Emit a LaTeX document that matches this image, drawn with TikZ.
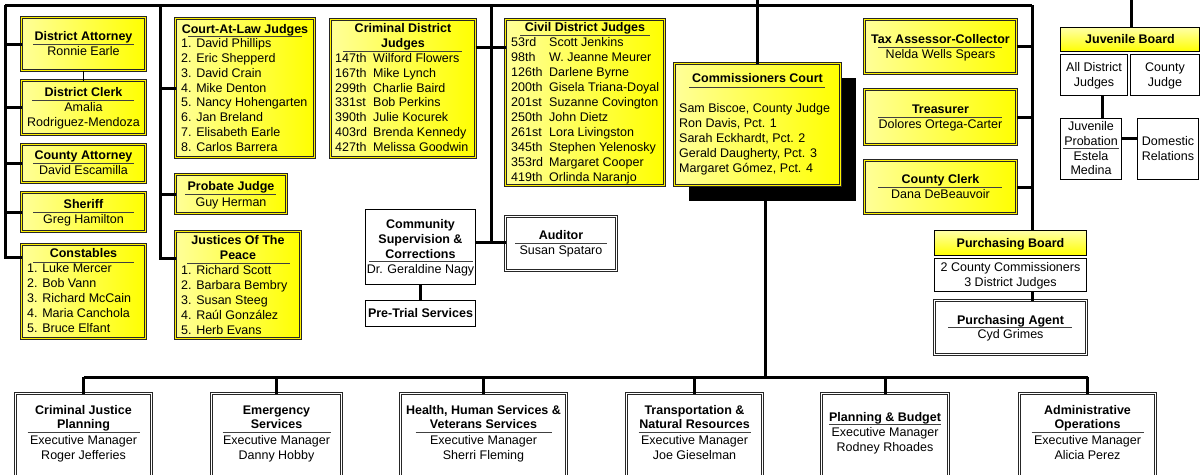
\documentclass[tikz,border=0pt]{standalone}
\usepackage{fontspec}
\setmainfont{Liberation Sans}
\begin{document}
\begin{tikzpicture}[x=1pt,y=-1pt,font=\fontsize{12.5pt}{15pt}\selectfont]
\tikzset{
  bx/.style={rectangle, inner sep=0pt, outer sep=0pt, anchor=north west},
  ybox/.style={bx, draw=black!85, double=yellow, double distance=1.6pt, line width=0.9pt, left color=yellow!40!white, right color=yellow},
  wbox/.style={bx, draw=black!85, double=white, double distance=1.6pt, line width=0.9pt, fill=white},
  sbox/.style={bx, draw=black, line width=1.5pt, fill=white},
  hbox/.style={bx, draw=black, line width=1.5pt, top color=yellow!35!white, bottom color=yellow},
  shad/.style={bx, fill=black},
  conn/.style={line width=3pt},
  thinline/.style={line width=0.9pt},
  ul/.style={line width=0.9pt, draw=black!75},
  tb/.style={font=\fontsize{12.5pt}{15pt}\selectfont\bfseries, inner sep=0pt, anchor=base},
  tr/.style={inner sep=0pt, anchor=base},
  tl/.style={inner sep=0pt, anchor=base west},
  bb/.style={font=\fontsize{12.5pt}{14pt}\selectfont\bfseries, inner sep=0pt, anchor=base},
  br/.style={font=\fontsize{12.5pt}{14pt}\selectfont, inner sep=0pt, anchor=base},
}
\newcommand\bx[6]{\node[#1, minimum width={#5-#3-3}, minimum height={#6-#4-3}] (#2) at ({#3+1.5},{#4+1.5}) {};}
\newcommand\tB[4]{\node[tb] (#1) at (#2,{#3+4.5}) {#4};}
\newcommand\tR[4]{\node[tr] (#1) at (#2,{#3+4.5}) {#4};}
\newcommand\uL[3]{\draw[ul] (#1,#3) -- (#2,#3);}
\newcommand\bt[7]{%
  \node[bb] (#1a) at (#2,{410+4.4}) {#3};
  \node[bb] (#1b) at (#2,{424+4.4}) {#4};
  \draw[ul] ({#2-#7},432) -- ({#2+#7},432);
  \node[br] (#1c) at (#2,{440+4.4}) {#5};
  \node[br] (#1d) at (#2,{455+4.4}) {#6};}
\useasboundingbox (0,0) rectangle (1204,474);
\clip (0,0) rectangle (1204,474);
\fill[white] (0,0) rectangle (1204,474);

% ---------- boxes ----------
\bx{ybox}{da}{20}{16}{147}{72}
\bx{ybox}{dc}{20}{79}{147}{136}
\bx{ybox}{ca}{20}{143}{147}{184}
\bx{ybox}{sh}{20}{191}{147}{233}
\bx{ybox}{co}{20}{243}{147}{340}
\bx{ybox}{cal}{174}{17}{316}{159}
\bx{ybox}{pj}{174}{173}{288}{215}
\bx{ybox}{jp}{174}{230}{302}{340}
\bx{ybox}{cdj}{329}{18}{477}{159}
\bx{ybox}{civ}{504}{18}{666}{187}
\bx{shad}{ccs}{687}{76}{857}{202}
\bx{ybox}{cc}{673}{62}{842}{187}
\bx{sbox}{csc}{364}{208}{477}{286}
\bx{sbox}{pts}{364}{299}{477}{328}
\bx{wbox}{aud}{504}{215}{618}{272}
\bx{ybox}{tax}{863}{18}{1018}{75}
\bx{ybox}{tre}{863}{88}{1018}{146}
\bx{ybox}{clk}{863}{159}{1018}{215}
\bx{hbox}{pbh}{933}{229}{1088}{257}
\bx{sbox}{pbl}{933}{257}{1088}{293}
\bx{wbox}{pa}{933}{299}{1088}{356}
\bx{hbox}{jbh}{1059}{26}{1201}{53}
\bx{sbox}{jbl}{1059}{53}{1129}{97}
\bx{sbox}{jbr}{1129}{53}{1201}{97}
\bx{sbox}{jpr}{1059}{117}{1123}{181}
\bx{sbox}{dr}{1136}{117}{1200}{181}
\bx{wbox}{b1}{14}{392}{153}{490}
\bx{wbox}{b2}{210}{392}{343}{490}
\bx{wbox}{b3}{399}{392}{568}{490}
\bx{wbox}{b4}{625}{392}{764}{490}
\bx{wbox}{b5}{820}{392}{950}{490}
\bx{wbox}{b6}{1018}{392}{1157}{490}

% ---------- connectors ----------
\coordinate (k1) at (5,5);
\coordinate (k1b) at (5,257);
\coordinate (k2) at (160,5);
\coordinate (k2b) at (160,258);
\coordinate (k3) at (491,5);
\coordinate (k3a) at (491,47);
\coordinate (k3b) at (491,242);
\coordinate (k4) at (1032,5);
\coordinate (top1) at (757.5,-3);
\coordinate (top2) at (1131,-3);
\coordinate (cco) at (765,377);
\coordinate (jv) at (1102,97);
\coordinate (jh) at (1123,138);

\draw[conn] (k1) -- (k4);
\draw[conn] (k1) -- (k1b) -- (co.west |- k1b);
\foreach \b in {da,dc,ca,sh} \draw[conn] (k1 |- \b.west) -- (\b.west);
\draw[conn] (k2) -- (k2b) -- (jp.west |- k2b);
\foreach \b in {cal,pj} \draw[conn] (k2 |- \b.west) -- (\b.west);
\draw[conn] (k3) -- (k3b);
\draw[conn] (cdj.east |- k3a) -- (civ.west |- k3a);
\draw[conn] (csc.east |- k3b) -- (aud.west |- k3b);
\draw[conn] (k4) -- (k4 |- pbh.north);
\foreach \b in {tax,tre,clk} \draw[conn] (\b.east) -- (\b.east -| k4);
\draw[conn] (pbl.south -| k4) -- (pa.north -| k4);
\draw[conn] (top1) -- (cc.north);
\draw[conn] (ccs.south -| cco) -- (cco);
\draw[conn] (b1.north |- cco) -- (b6.north |- cco);
\foreach \b in {b1,b2,b3,b4,b5,b6} \draw[conn] (\b.north |- cco) -- (\b.north);
\draw[conn] (top2) -- (top2 |- jbh.north);
\draw[conn] (jbl.south -| jv) -- (jpr.north -| jv);
\draw[conn] (jpr.east |- jh) -- (dr.west |- jh);
\draw[conn] (csc.south) -- (pts.north);
\draw[thinline] (da.south) -- (dc.north);

% ---------- texts ----------
\tB{daT}{83.5}{36}{District Attorney} \uL{33}{134}{44} \tR{daN}{83.5}{51}{Ronnie Earle}
\tB{dcT}{83.5}{92}{District Clerk} \uL{32}{134}{100} \tR{dcN1}{83.5}{107}{Amalia} \tR{dcN2}{83.5}{122}{Rodriguez-Mendoza}
\tB{caT}{83.5}{155}{County Attorney} \uL{33}{134}{163} \tR{caN}{83.5}{170}{David Escamilla}
\tB{shT}{83.5}{204}{Sheriff} \uL{33}{134}{212} \tR{shN}{83.5}{219}{Greg Hamilton}
\tB{coT}{83.5}{253}{Constables} \uL{33}{134}{262}
\foreach \t [count=\i] in {1. Luke Mercer,2. Bob Vann,3. Richard McCain,4. Maria Canchola,5. Bruce Elfant}
  \node[tl] (coL\i) at (27,{268+15*(\i-1)+4.5}) {\t};

\tB{calT}{245}{29}{Court-At-Law Judges} \uL{188}{302}{36}
\foreach \t [count=\i] in {1. David Phillips,2. Eric Shepperd,3. David Crain,4. Mike Denton,5. Nancy Hohengarten,6. Jan Breland,7. Elisabeth Earle,8. Carlos Barrera}
  \node[tl] (calL\i) at (181,{43+14.86*(\i-1)+4.5}) {\t};

\tB{pjT}{231}{186}{Probate Judge} \uL{185}{276}{194} \tR{pjN}{231}{202}{Guy Herman}

\tB{jpT1}{238}{240}{Justices Of The} \tB{jpT2}{238}{255}{Peace} \uL{187}{290}{263}
\foreach \t [count=\i] in {1. Richard Scott,2. Barbara Bembry,3. Susan Steeg,4. Raúl González,5. Herb Evans}
  \node[tl] (jpL\i) at (181,{270+15*(\i-1)+4.5}) {\t};

\tB{cdjT1}{403}{28}{Criminal District} \tB{cdjT2}{403}{43}{Judges} \uL{343}{462}{51}
\foreach \n/\m [count=\i] in {147th/Wilford Flowers,167th/Mike Lynch,299th/Charlie Baird,331st/Bob Perkins,390th/Julie Kocurek,403rd/Brenda Kennedy,427th/Melissa Goodwin}{
  \node[tl] (cdjN\i) at (335,{58+14.83*(\i-1)+4.5}) {\n};
  \node[tl] (cdjM\i) at (373,{58+14.83*(\i-1)+4.5}) {\m};}

\tB{civT}{585}{27}{Civil District Judges} \uL{520}{650}{35}
\foreach \n/\m [count=\i] in {53rd/Scott Jenkins,98th/W. Jeanne Meurer,126th/Darlene Byrne,200th/Gisela Triana-Doyal,201st/Suzanne Covington,250th/John Dietz,261st/Lora Livingston,345th/Stephen Yelenosky,353rd/Margaret Cooper,419th/Orlinda Naranjo}{
  \node[tl] (civN\i) at (511,{42+15*(\i-1)+4.5}) {\n};
  \node[tl] (civM\i) at (549,{42+15*(\i-1)+4.5}) {\m};}

\tB{ccT}{757.5}{78}{Commissioners Court} \uL{689}{825}{87}
\foreach \t [count=\i] in {{Sam Biscoe, County Judge},{Ron Davis, Pct. 1},{Sarah Eckhardt, Pct. 2},{Gerald Daugherty, Pct. 3},{Margaret Gómez, Pct. 4}}
  \node[tl] (ccL\i) at (679,{108+15*(\i-1)+4.5}) {\t};

\tB{cscT1}{420.5}{224}{Community} \tB{cscT2}{420.5}{239}{Supervision \&} \tB{cscT3}{420.5}{254}{Corrections}
\uL{369}{473}{261} \tR{cscN}{420.5}{269}{Dr. Geraldine Nagy}
\tB{ptsT}{420.5}{313}{Pre-Trial Services}
\tB{audT}{561}{235}{Auditor} \uL{515}{607}{243} \tR{audN}{561}{250}{Susan Spataro}

\tB{taxT}{940.5}{39}{Tax Assessor-Collector} \uL{878}{1002}{47} \tR{taxN}{940.5}{54}{Nelda Wells Spears}
\tB{treT}{940.5}{109}{Treasurer} \uL{878}{1002}{117} \tR{treN}{940.5}{124}{Dolores Ortega-Carter}
\tB{clkT}{940.5}{179}{County Clerk} \uL{878}{1002}{187} \tR{clkN}{940.5}{194}{Dana DeBeauvoir}

\tB{pbT}{1010.5}{243}{Purchasing Board}
\tR{pbN1}{1010.5}{267}{2 County Commissioners} \tR{pbN2}{1010.5}{282}{3 District Judges}
\tB{paT}{1010.5}{320}{Purchasing Agent} \uL{948}{1072}{327} \tR{paN}{1010.5}{334}{Cyd Grimes}

\tB{jbT}{1130}{39}{Juvenile Board}
\tR{jbA1}{1094}{67}{All District} \tR{jbA2}{1094}{82}{Judges}
\tR{jbB1}{1165}{67}{County} \tR{jbB2}{1165}{82}{Judge}
\tR{jpr1}{1091}{126}{Juvenile} \tR{jpr2}{1091}{141}{Probation} \uL{1063}{1119}{148}
\tR{jpr3}{1091}{156}{Estela} \tR{jpr4}{1091}{170}{Medina}
\tR{dr1}{1168}{141}{Domestic} \tR{dr2}{1168}{156}{Relations}

\bt{bA}{83.5}{Criminal Justice}{Planning}{Executive Manager}{Roger Jefferies}{56}
\bt{bB}{276.5}{Emergency}{Services}{Executive Manager}{Danny Hobby}{54}
\bt{bC}{483.5}{Health, Human Services \&}{Veterans Services}{Executive Manager}{Sherri Fleming}{68}
\bt{bD}{694.5}{Transportation \&}{Natural Resources}{Executive Manager}{Joe Gieselman}{56}
\bt{bF}{1087.5}{Administrative}{Operations}{Executive Manager}{Alicia Perez}{56}
\node[bb] (bEa) at (885,{417+4.4}) {Planning \& Budget};
\draw[ul] (829,424) -- (941,424);
\node[br] (bEc) at (885,{432+4.4}) {Executive Manager};
\node[br] (bEd) at (885,{447+4.4}) {Rodney Rhoades};
\end{tikzpicture}
\end{document}
